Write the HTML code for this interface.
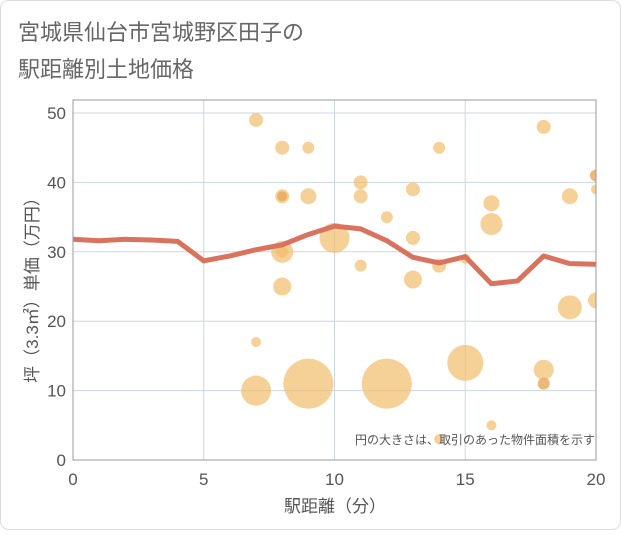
<!DOCTYPE html>
<html><head><meta charset="utf-8"><style>
body{margin:0;background:#fff}
.t{font-family:"Liberation Sans","Noto Sans CJK JP",sans-serif}
</style></head><body>
<svg width="621" height="530" class="t">
<rect x="0.5" y="0.5" width="620" height="529" rx="8" fill="#fff" stroke="#ddd"/>
<text x="18" y="40" font-size="22" fill="#666">宮城県仙台市宮城野区田子の</text>
<text x="18" y="77" font-size="22" fill="#666">駅距離別土地価格</text>
<g id="grid"></g>
<g id="bubbles" clip-path="url(#cp)"></g>
<path id="line" fill="none" stroke="#d9735d" stroke-width="5" stroke-linejoin="round"/>
<g id="axes"></g>
<text x="595" y="444" font-size="12" fill="#555" text-anchor="end">円の大きさは、取引のあった物件面積を示す</text>
<text x="335" y="512" font-size="17" fill="#555" text-anchor="middle">駅距離（分）</text>
<text transform="translate(38,286) rotate(-90)" font-size="17" fill="#555" text-anchor="middle">坪（3.3㎡）単価（万円）</text>
<defs><clipPath id="cp"><rect x="73" y="100" width="523" height="360"/></clipPath></defs>
</svg>
<script>
const xTicks=[0,5,10,15,20];
const yTicks=[0,10,20,30,40,50];
const lineX=[0,1,2,3,4,5,6,7,8,9,10,11,12,13,14,15,16,17,18,19,20];
const lineY=[31.8,31.6,31.8,31.7,31.5,28.7,29.4,30.3,31,32.5,33.7,33.3,31.6,29.2,28.4,29.3,25.4,25.8,29.4,28.3,28.2];
const bubX=[7,8,9,8,9,11,11,12,13,14,13,10,8,8,11,13,14,15,16,16,18,19,19,20,20,20,7,7,9,12,15,18,18,14,16,8,8];
const bubY=[49,45,45,38,38,40,38,35,39,45,32,32,30,25,28,26,28,29,37,34,48,38,22,23,41,39,17,10,11,11,14,13,11,3,5,38,30];
const bubR=[7,7,6,7,8,7,7,6,7,6,7,15,11,9,6,9,7,5,8,11,7,8,12,8,6,5,5,15,25,25,18,10,6,5,5,5,6];
const bubDark=[0,0,0,0,0,0,0,0,0,0,0,0,0,0,0,0,0,0,0,0,0,0,0,0,1,0,0,0,0,0,0,0,1,0,0,1,0];
const sx=v=>73+v*(523/20), sy=v=>460-v*(347/50);
const NS="http://www.w3.org/2000/svg";
function mk(t,a,p){const e=document.createElementNS(NS,t);for(const k in a)e.setAttribute(k,a[k]);p.appendChild(e);return e;}
const g=document.getElementById('grid'),ax=document.getElementById('axes'),bb=document.getElementById('bubbles');
xTicks.forEach(v=>{const l=mk('line',{x1:sx(v),x2:sx(v),y1:100,y2:460,stroke:'#c9d8e6','stroke-width':1},g);


const t=mk('text',{x:sx(v),y:485,'font-size':17,fill:'#555','text-anchor':'middle'},ax);t.textContent=v;

});
yTicks.forEach(v=>{const l=mk('line',{x1:73,x2:596,y1:sy(v),y2:sy(v),stroke:'#c9d8e6','stroke-width':1},g);


const t=mk('text',{x:66,y:sy(v)+6,'font-size':17,fill:'#555','text-anchor':'end'},ax);t.textContent=v;

});
const b=mk('rect',{x:73,y:100,width:523,height:360,fill:'none',stroke:'#999','stroke-width':1},ax);


bubX.forEach((x,i)=>{const c=mk('circle',{cx:sx(x),cy:sy(bubY[i]),r:bubR[i],fill:bubDark[i]?'#e8a858':'#f2bd6b','fill-opacity':bubDark[i]?0.8:0.7},bb);

});
document.getElementById('line').setAttribute('d',lineX.map((x,i)=>(i?'L':'M')+sx(x)+','+sy(lineY[i])).join(''));
</script>
</body></html>
